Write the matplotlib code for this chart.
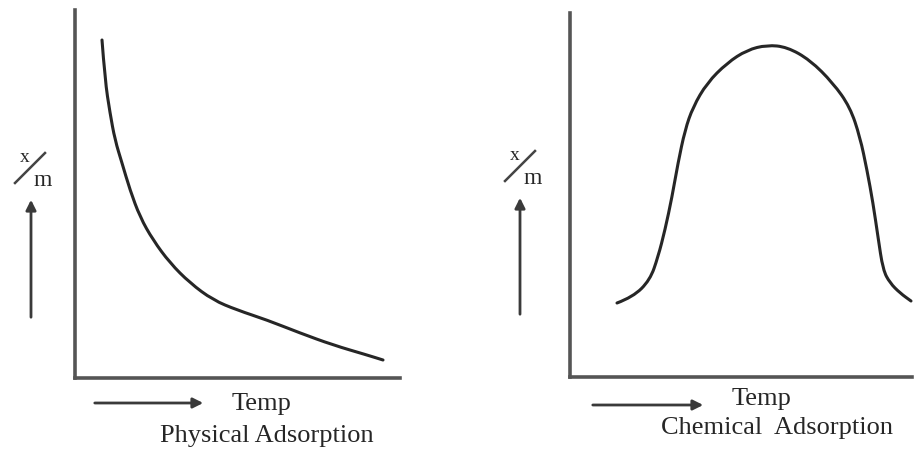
import matplotlib.pyplot as plt
from matplotlib.path import Path
from matplotlib.patches import PathPatch
import numpy as np

# physical adsorption curve (pixel-ish units of the panel)
phys_temp = [27, 30, 35, 40, 47, 55, 65, 78, 95, 115, 138, 162, 192, 225, 258, 292, 308]
phys_xm = [338, 298, 265, 238, 215, 188, 161, 138, 115, 95, 78, 68, 58, 45, 33, 23, 18]

# chemical adsorption curve
chem_temp = [47, 63, 80, 88, 95, 102, 108, 115, 123, 137, 157, 177, 197,
             217, 240, 263, 280, 290, 297, 303, 308, 313, 320, 330, 341]
chem_xm = [74, 80, 97, 120, 147, 180, 214, 247, 270, 294, 314, 327, 332,
           330, 317, 294, 270, 240, 207, 174, 140, 107, 94, 84, 76]

W, H = 914, 451
fig = plt.figure(figsize=(W / 100, H / 100), dpi=100)
plt.rcParams['font.family'] = ['Liberation Serif', 'DejaVu Serif']

col = '#262626'

def smooth_path(xs, ys):
    # quadratic bezier through midpoints, so the hand-drawn curve has no corners
    pts = np.column_stack([xs, ys]).astype(float)
    verts = [pts[0]]
    codes = [Path.MOVETO]
    for i in range(1, len(pts) - 1):
        mid = (pts[i] + pts[i + 1]) / 2
        verts += [pts[i], mid]
        codes += [Path.CURVE3, Path.CURVE3]
    verts.append(pts[-1])
    codes.append(Path.LINETO)
    return Path(verts, codes)

def panel(rect, xmax, ymax, tx, ty):
    ax = fig.add_axes(rect)
    ax.add_patch(PathPatch(smooth_path(tx, ty), fill=False, edgecolor=col,
                           lw=2.2, capstyle='round', joinstyle='round', clip_on=False))
    ax.set_xlim(0, xmax)
    ax.set_ylim(0, ymax)
    for s in ['top', 'right']:
        ax.spines[s].set_visible(False)
    for s in ['left', 'bottom']:
        ax.spines[s].set_linewidth(2.6)
        ax.spines[s].set_color('#555555')
    ax.set_xticks([])
    ax.set_yticks([])
    ax.patch.set_alpha(0)
    return ax

panel([75 / W, 1 - 378 / H, 325 / W, 368 / H], 325, 368, phys_temp, phys_xm)
panel([570 / W, 1 - 377 / H, 342 / W, 364 / H], 342, 364, chem_temp, chem_xm)

# overlay in pixel coordinates for the labels and arrows
ov = fig.add_axes([0, 0, 1, 1])
ov.set_xlim(0, W)
ov.set_ylim(H, 0)
ov.axis('off')
ov.patch.set_alpha(0)

arr = dict(arrowstyle='-|>', color='#3a3a3a', lw=2, mutation_scale=15)

def labels(ylx, yly, ax_x, ay0, ay1, tx0, tx1, ty, temp_x, temp_y, name_x, name_y, name):
    # slanted x/m
    ov.text(ylx - 5, yly - 10, 'x', fontsize=14, ha='center', va='center', color=col)
    ov.plot([ylx - 15, ylx + 15], [yly + 16, yly - 14], color='#444444', lw=1.8)
    ov.text(ylx + 13, yly + 13, 'm', fontsize=17, ha='center', va='center', color=col)
    ov.annotate('', xy=(ax_x, ay1), xytext=(ax_x, ay0), arrowprops=arr)
    ov.annotate('', xy=(tx1, ty), xytext=(tx0, ty), arrowprops=arr)
    ov.text(temp_x, temp_y, 'Temp', fontsize=19, ha='center', va='center', color=col)
    ov.text(name_x, name_y, name, fontsize=19, ha='center', va='center', color=col)

labels(30, 167, 31, 320, 197, 92, 206, 403, 262, 404, 267, 436, 'Physical Adsorption')
labels(520, 165, 520, 317, 195, 590, 706, 405, 761, 399, 777, 428, 'Chemical  Adsorption')

fig.savefig('out.png', dpi=100)
